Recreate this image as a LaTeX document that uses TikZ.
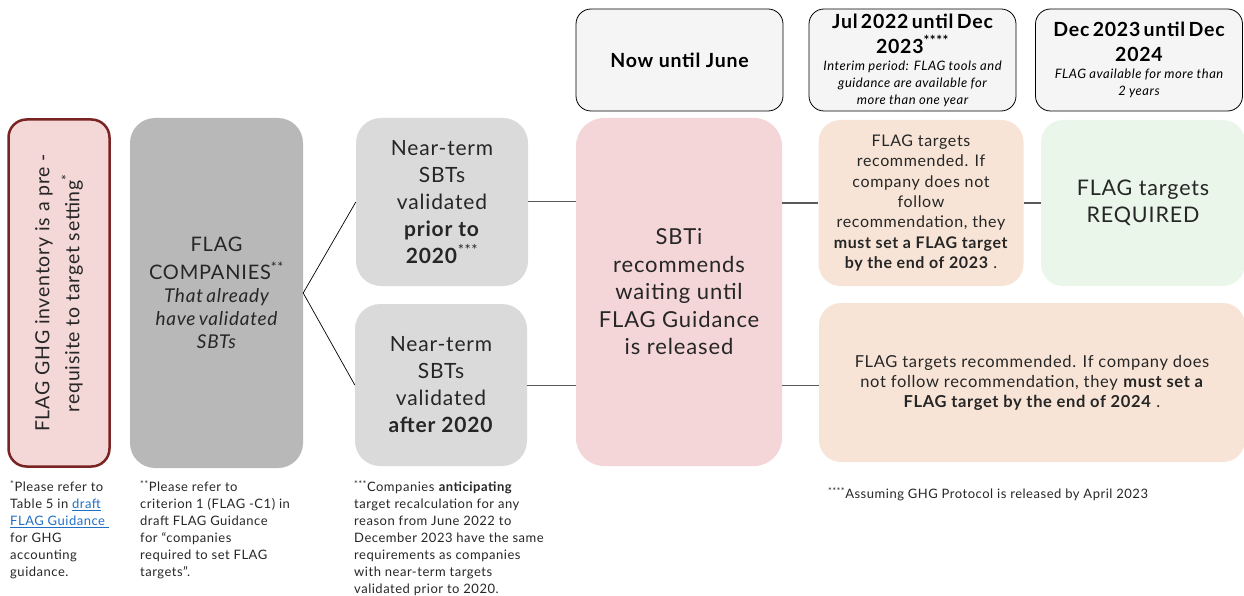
\documentclass[tikz,border=0pt]{standalone}
\usepackage{fontspec}
\setmainfont{Lato}[LetterSpace=4]
\usepackage{xcolor}
\definecolor{txt}{HTML}{262626}
\definecolor{redfill}{HTML}{F4D7D7}
\definecolor{redline}{HTML}{7A2323}
\definecolor{grayfill}{HTML}{B8B8B8}
\definecolor{lgrayfill}{HTML}{DADADA}
\definecolor{pinkfill}{HTML}{F4D6D8}
\definecolor{headfill}{HTML}{F5F5F5}
\definecolor{orangefill}{HTML}{F7E4D6}
\definecolor{greenfill}{HTML}{EAF6EA}
\definecolor{conn}{HTML}{5A5A5A}
\definecolor{link}{HTML}{1F6FC5}
\newcommand{\fs}[2]{\fontsize{#1}{#2}\selectfont}
\begin{document}
\begin{tikzpicture}[x=1pt,y=-1pt,
  box/.style={rectangle, rounded corners=#1, inner sep=0pt, align=center, text=txt},
  box/.default=24pt,
  head/.style={rectangle, rounded corners=15pt, draw=black, line width=0.8pt, fill=headfill, inner sep=0pt, align=center, text=black, minimum width=207pt, minimum height=102pt},
  hline/.style={draw=conn, line width=1pt},
  dline/.style={draw=black, line width=0.7pt},
  note/.style={anchor=north west, inner sep=0pt, align=left, text=txt, font=\fs{13}{17}}
]
\useasboundingbox (0,0) rectangle (1244,596);

% headers
\node[head, font=\fs{19.5}{25}\bfseries] (hnow) at (679.5,60) {Now until June};
\node[head, text width=207pt] (hjul) at (912.5,60) {{\fs{19.5}{25}\bfseries Jul 2022 until Dec\\2023\textsuperscript{****}\par}{\fs{13}{17}\itshape Interim period: FLAG tools and\\guidance are available for\\more than one year\par}};
\node[head, text width=207pt] (hdec) at (1139,60) {{\fs{19.5}{25}\bfseries Dec 2023 until Dec\\2024\par}{\fs{13}{17}\itshape FLAG available for more than\\2 years\par}};

% left boxes
\node[box=18pt, draw=redline, line width=2.5pt, fill=redfill, minimum width=101pt, minimum height=347pt] (inv) at (59,293) {};
\node[rotate=90, align=center, text=txt, font=\fs{19.5}{30}, inner sep=0pt] (invtxt) at (inv.center) {FLAG GHG inventory is a pre -\\requisite to target setting\textsuperscript{*}};

\node[box=25pt, fill=grayfill, minimum width=173pt, minimum height=350pt, text width=173pt] (flag) at (216.5,293)
  {{\fs{20}{28}FLAG\\COMPANIES\textsuperscript{**}\par}{\fs{19}{23}\itshape That already\\have validated\\SBTs\par}};

\node[box=25pt, fill=lgrayfill, minimum width=172pt, minimum height=168pt, font=\fs{21}{27}] (prior) at (442,202)
  {Near-term\\SBTs\\validated\\\textbf{prior to}\\\textbf{2020}\textsuperscript{***}};
\node[box=25pt, fill=lgrayfill, minimum width=172pt, minimum height=162pt, font=\fs{21}{27}] (after) at (441,385)
  {Near-term\\SBTs\\validated\\\textbf{after 2020}};

\node[box=28pt, fill=pinkfill, minimum width=206pt, minimum height=348pt, font=\fs{22}{27.5}] (sbti) at (679,292)
  {SBTi\\recommends\\waiting until\\FLAG Guidance\\is released};

\node[box=22pt, fill=orangefill, minimum width=205pt, minimum height=166pt, font=\fs{16}{20.3}] (rec23) at (921,203)
  {FLAG targets\\recommended. If\\company does not\\follow\\recommendation, they\\\textbf{must set a FLAG target}\\\textbf{by the end of 2023} .};
\node[box=22pt, fill=greenfill, minimum width=204pt, minimum height=166pt, font=\fs{21.5}{27}] (req) at (1143,203)
  {FLAG targets\\REQUIRED};
\node[box=22pt, fill=orangefill, minimum width=426pt, minimum height=159pt, font=\fs{16.5}{20}] (rec24) at (1032,382.5)
  {FLAG targets recommended. If company does\\not follow recommendation, they \textbf{must set a}\\\textbf{FLAG target by the end of 2024} .};

% connectors
\draw[dline] (flag.east) -- (prior.west);
\draw[dline] (flag.east) -- (after.west);
\draw[hline] (prior.east) -- (prior.east -| sbti.west);
\draw[hline] (after.east) -- (after.east -| sbti.west);
\draw[hline] (sbti.east |- rec23.west) -- (rec23.west);
\draw[hline] (rec23.east) -- (req.west);
\draw[hline] (sbti.east |- after.east) -- (after.east -| rec24.west);

% notes
\node[note] (n1) at (10,480) {\textsuperscript{*}Please refer to\\Table 5 in \textcolor{link}{\underline{draft}}\\\textcolor{link}{\underline{FLAG Guidance\ }}\\for GHG\\accounting\\guidance.};
\node[note] (n2) at (140,480) {\textsuperscript{**}Please refer to\\criterion 1 (FLAG -C1) in\\draft FLAG Guidance\\for “companies\\required to set FLAG\\targets”.};
\node[note] (n3) at (354,480) {\textsuperscript{***}Companies \textbf{anticipating}\\target recalculation for any\\reason from June 2022 to\\December 2023 have the same\\requirements as companies\\with near-term targets\\validated prior to 2020.};
\node[note] (n4) at (828,487) {\textsuperscript{****}Assuming GHG Protocol is released by April 2023};
\end{tikzpicture}
\end{document}
